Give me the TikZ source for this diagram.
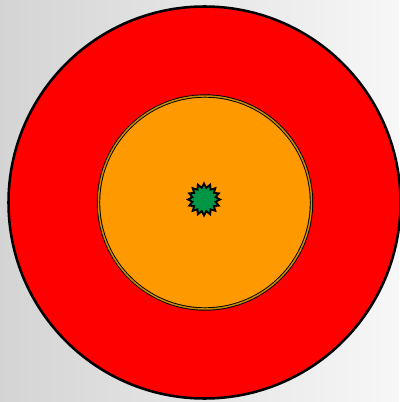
\documentclass[tikz,border=0pt]{standalone}
\usetikzlibrary{shapes.geometric}
\definecolor{bgL}{RGB}{212,212,212}
\definecolor{bgR}{RGB}{247,247,247}
\definecolor{ringred}{RGB}{255,0,0}
\definecolor{coreorange}{RGB}{255,153,0}
\definecolor{rimgold}{RGB}{200,140,0}
\definecolor{stargreen}{RGB}{0,150,70}
\tikzset{
  outer/.style={circle, draw=black, line width=1.9pt, fill=ringred, minimum size=392*0.75pt, inner sep=0pt},
  inner/.style={circle, draw=black, line width=0.7pt, double=rimgold, double distance=1.1pt, fill=coreorange, minimum size=213*0.75pt, inner sep=0pt},
  starry/.style={star, star points=16, star point ratio=1.35, draw=black, line width=1.4pt, fill=stargreen, minimum size=32*0.75pt, inner sep=0pt}
}
\begin{document}
\begin{tikzpicture}[x=0.75pt,y=-0.75pt]
\shade[left color=bgL, right color=bgR] (0,0) rectangle (399,402);
\useasboundingbox (0,0) rectangle (399,402);
\node[outer] (ring) at (204.5,202.5) {};
\node[inner] (core) at (205,202.5) {};
\node[starry] (seed) at (204,199.5) {};
\end{tikzpicture}
\end{document}
